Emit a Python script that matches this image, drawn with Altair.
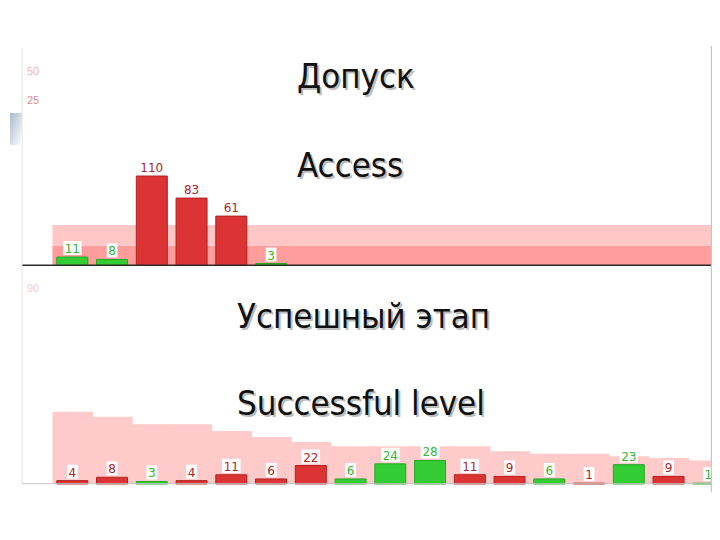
import altair as alt
import pandas as pd

# ---------------- data ----------------
slot_count = 17
top_values = [11, 8, 110, 83, 61, 3]
top_status = ["ok", "ok", "fail", "fail", "fail", "ok"]
band_low = [0, 25]
band_high = [25, 50]
band_colors = ["#ff9c9c", "#ffc6c6"]
top_ticks = ["50", "25"]

bottom_values = [4, 8, 3, 4, 11, 6, 22, 6, 24, 28, 11, 9, 6, 1, 23, 9, 1]
bottom_status = ["fail", "fail", "ok", "fail", "fail", "fail", "fail", "ok", "ok",
                 "ok", "fail", "fail", "ok", "fail", "ok", "fail", "ok"]
bottom_limits = [86, 80, 71, 71, 63, 56, 50, 45, 45, 45, 45, 39, 36, 36, 33, 31, 28]
bottom_ticks = ["90"]

top_title = ["Допуск", "Access"]
bottom_title = ["Успешный этап", "Successful level"]

# ---------------- layout constants ----------------
W = 704
PX_SLOT = 39.75
X_LEFT = -(72.3 - 8) / PX_SLOT
X_DOMAIN = [X_LEFT, X_LEFT + W / PX_SLOT]
HALF_BAR = 15.5 / PX_SLOT
TOP_H = 258
TOP_PPU = 0.818
TOP_Y = [0, TOP_H / TOP_PPU]
BOT_H = 226
BOT_PPU = 0.84
BOT_Y = [-8 / BOT_PPU, (BOT_H - 8) / BOT_PPU]

RED = "#dc3434"
RED_STROKE = "#b22020"
GREEN = "#34cc34"
GREEN_STROKE = "#22aa22"
RED_TXT = "#a82828"
GREEN_TXT = "#30b830"
TITLE_FONT = "DejaVu Sans Condensed, DejaVu Sans"
TITLE_SIZE = 34.5
LABEL_FONT = "DejaVu Sans"


def xs(field):
    return alt.X(field, type="quantitative",
                 scale=alt.Scale(domain=X_DOMAIN, nice=False, zero=False), axis=None)


def ys(field, dom):
    return alt.Y(field, type="quantitative",
                 scale=alt.Scale(domain=dom, nice=False, zero=False), axis=None)


def bar_layers(values, status, ydom, ppu):
    df = pd.DataFrame({"i": list(range(len(values))), "value": values, "status": status})
    base = alt.Chart(df).transform_calculate(
        x0=f"datum.i - {HALF_BAR}",
        x1=f"datum.i + {HALF_BAR}",
        bx0=f"datum.i - (length(toString(datum.value)) * 3.9 + 1.5) / {PX_SLOT}",
        bx1=f"datum.i + (length(toString(datum.value)) * 3.9 + 1.5) / {PX_SLOT}",
        by0=f"datum.value + 2 / {ppu}",
        by1=f"datum.value + 16 / {ppu}",
        zero="0",
    )
    bars = base.mark_rect(clip=True, strokeWidth=1).encode(
        x=xs("x0"), x2="x1:Q", y=ys("zero", ydom), y2="value:Q",
        fill=alt.condition("datum.status == 'ok'", alt.value(GREEN), alt.value(RED)),
        stroke=alt.condition("datum.status == 'ok'", alt.value(GREEN_STROKE), alt.value(RED_STROKE)),
    )
    boxes = base.mark_rect(clip=True, color="white").encode(
        x=xs("bx0"), x2="bx1:Q", y=ys("by0", ydom), y2="by1:Q",
    )
    labels = base.mark_text(font=LABEL_FONT, fontSize=12, baseline="alphabetic",
                            dy=-4, clip=True).encode(
        x=xs("i"), y=ys("value", ydom), text="value:Q",
        color=alt.condition("datum.status == 'ok'", alt.value(GREEN_TXT), alt.value(RED_TXT)),
    )
    return [bars, boxes, labels]


def title_layers(lines, x, ys_px):
    out = []
    for line, y in zip(lines, ys_px):
        d = pd.DataFrame({"t": [line]})
        shadow = alt.Chart(d).mark_text(font=TITLE_FONT, fontSize=TITLE_SIZE, align="left",
                                        baseline="alphabetic", color="#bdbdbd").encode(
            x=alt.value(x + 2), y=alt.value(y + 2), text="t:N")
        main = alt.Chart(d).mark_text(font=TITLE_FONT, fontSize=TITLE_SIZE, align="left",
                                      baseline="alphabetic", color="#111111").encode(
            x=alt.value(x), y=alt.value(y), text="t:N")
        out += [shadow, main]
    return out


def tick_layer(text, y, color):
    d = pd.DataFrame({"t": [text]})
    return alt.Chart(d).mark_text(font="Liberation Sans", fontSize=11, align="left",
                                  baseline="middle", color=color).encode(
        x=alt.value(19), y=alt.value(y), text="t:N")


dummy = pd.DataFrame({"a": [0]})

# ---------------- top panel ----------------
band_df = pd.DataFrame({"lo": band_low, "hi": band_high, "col": band_colors})
bands = alt.Chart(band_df).transform_calculate(x0="-0.5", x1="17").mark_rect(clip=True).encode(
    x=xs("x0"), x2="x1:Q", y=ys("lo", TOP_Y), y2="hi:Q",
    color=alt.Color("col:N", scale=None),
)
gradient = alt.Chart(dummy).mark_rect(
    fill={"gradient": "linear", "x1": 0, "y1": 0, "x2": 1, "y2": 1,
          "stops": [{"offset": 0, "color": "#a8bacb"}, {"offset": 1, "color": "#ffffff"}]}
).encode(x=alt.value(2), x2=alt.value(14), y=alt.value(105), y2=alt.value(137))
left_frame_top = alt.Chart(dummy).mark_rule(color="#e4e4e4", strokeWidth=1).encode(
    x=alt.value(14), y=alt.value(40), y2=alt.value(TOP_H))
right_frame_top = alt.Chart(dummy).mark_rule(color="#c6c6c6", strokeWidth=1.2).encode(
    x=alt.value(W - 0.6), y=alt.value(38), y2=alt.value(TOP_H))
top_base = alt.Chart(dummy).mark_rule(color="#2a2a2a", strokeWidth=1.6).encode(
    x=alt.value(14), x2=alt.value(W - 1), y=alt.value(TOP_H - 0.8))

top = alt.layer(
    bands, *bar_layers(top_values, top_status, TOP_Y, TOP_PPU),
    top_base, left_frame_top, right_frame_top, gradient,
    tick_layer(top_ticks[0], 64, "#f0b4b4"), tick_layer(top_ticks[1], 93, "#e08a8a"),
    *title_layers(top_title, 289, [80, 168.5]),
).properties(width=W, height=TOP_H)

# ---------------- bottom panel ----------------
lim_df = pd.DataFrame({"i": list(range(len(bottom_limits))), "limit": bottom_limits})
steps = alt.Chart(lim_df).transform_calculate(
    x0="datum.i - 0.5", x1="datum.i + 0.52", zero="0"
).mark_rect(clip=True, color="#ffcaca").encode(
    x=xs("x0"), x2="x1:Q", y=ys("zero", BOT_Y), y2="limit:Q",
)
bot_base = alt.Chart(dummy).mark_rule(color="#c4c4c4", strokeWidth=1).encode(
    x=alt.value(14), x2=alt.value(W - 1), y=alt.value(BOT_H - 8.3))
left_frame_bot = alt.Chart(dummy).mark_rule(color="#e4e4e4", strokeWidth=1).encode(
    x=alt.value(14), y=alt.value(0), y2=alt.value(BOT_H - 7))
right_frame_bot = alt.Chart(dummy).mark_rule(color="#c6c6c6", strokeWidth=1.2).encode(
    x=alt.value(W - 0.6), y=alt.value(0), y2=alt.value(BOT_H))

bottom = alt.layer(
    steps, *bar_layers(bottom_values, bottom_status, BOT_Y, BOT_PPU),
    bot_base, left_frame_bot, right_frame_bot,
    tick_layer(bottom_ticks[0], 23, "#f6caca"),
    *title_layers(bottom_title, 229, [62, 149]),
).properties(width=W, height=BOT_H)

chart = (
    alt.vconcat(top, bottom, spacing=0, bounds="flush")
    .properties(padding={"left": 0, "top": 0, "right": 0, "bottom": 0})
    .configure(background="white")
    .configure_view(stroke=None)
)

chart.save("out.html", embed_options={"renderer": "svg", "actions": False})
